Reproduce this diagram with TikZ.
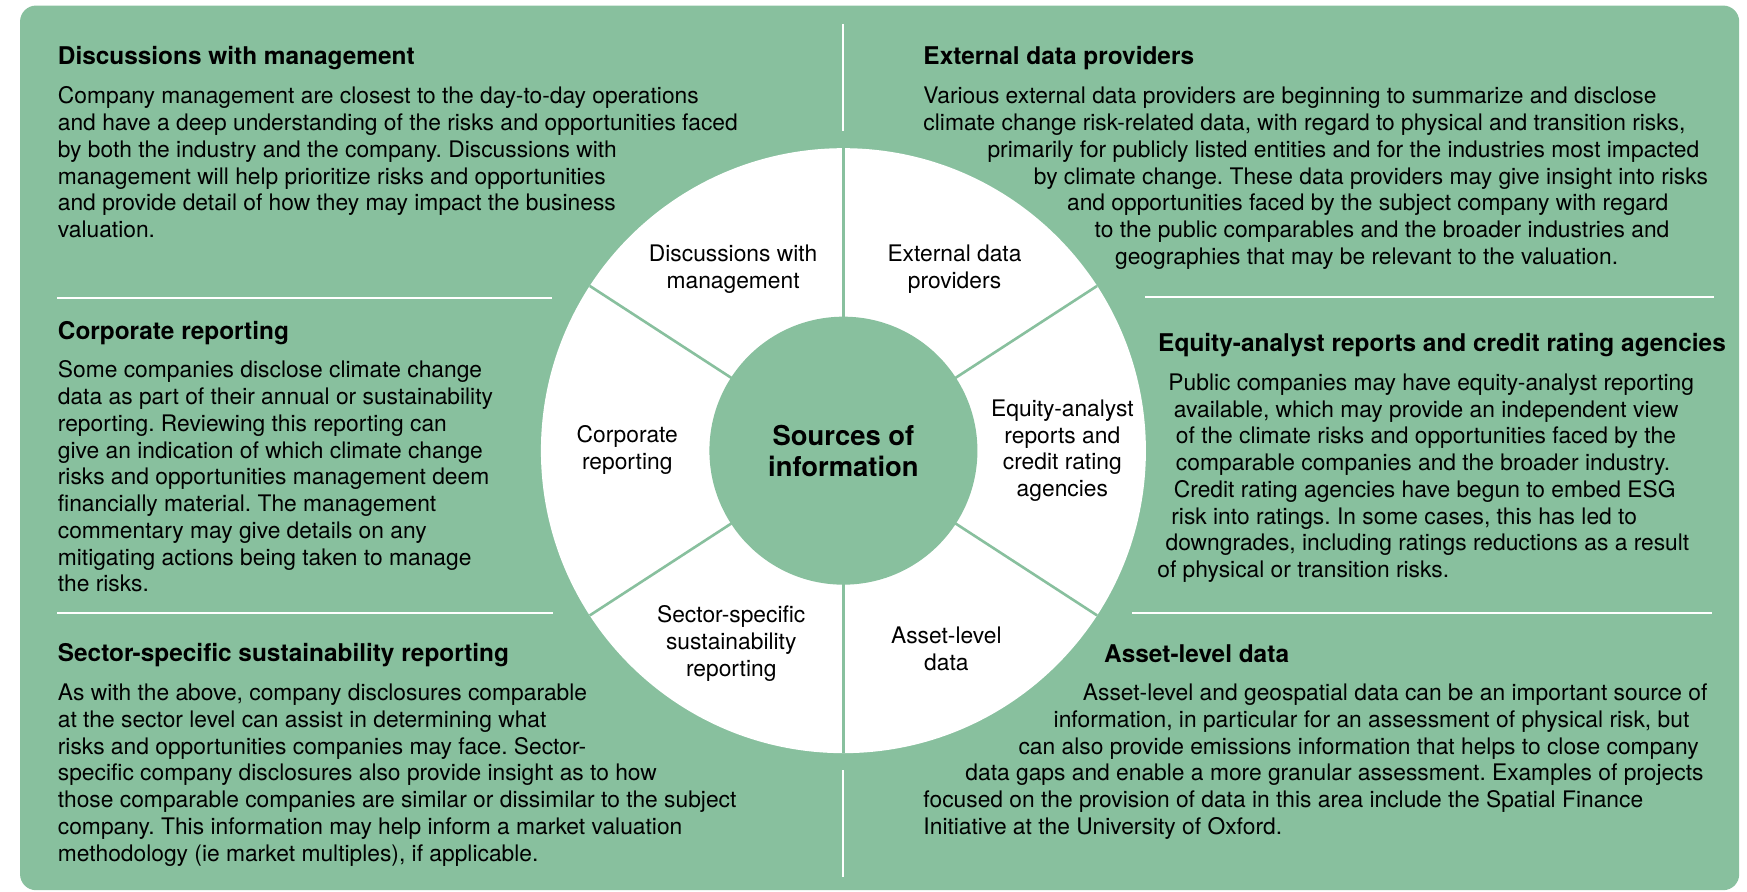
\documentclass[tikz,border=0pt]{standalone}
\usepackage{fontspec}
\setmainfont{TeX Gyre Heros}
\frenchspacing
\definecolor{sage}{HTML}{88C09E}
\tikzset{
  heading/.style={anchor=base west, inner sep=0pt, font=\fontsize{12.2}{14}\selectfont\bfseries},
  body/.style={anchor=base west, inner sep=0pt, align=left, font=\fontsize{11.4}{13.37}\selectfont},
  wedge text/.style={align=center, inner sep=0pt, font=\fontsize{11.4}{13.37}\selectfont},
  rule/.style={draw=white, line width=1pt},
  spoke/.style={draw=sage, line width=1.3pt}
}
\begin{document}
\begin{tikzpicture}[x=0.5571pt, y=-0.5571pt]
  \useasboundingbox (0,0) rectangle (1568,800);
  \fill [sage, rounded corners=8pt] (18,5) rectangle (1561,799);

  \draw [rule] (757,21.5) -- (757,117.6);
  \draw [rule] (757,691) -- (757,787);
  \draw [rule] (51.5,267.7) -- (495,267.7);
  \draw [rule] (51.5,550.5) -- (496,550.5);
  \draw [rule] (1028,266.8) -- (1538,266.8);
  \draw [rule] (1016,550.5) -- (1537,550.5);

  \coordinate (hub) at (757,404.5);
  \fill [white] (hub) circle [radius=271.5];
  \foreach \a in {33, 90, 147, 213, 270, 327}
    \draw [spoke] (hub) -- ++(\a:271.5);
  \node [circle, fill=sage, minimum size=134pt, inner sep=0pt, align=center,
    font=\fontsize{13.7}{15.6}\selectfont\bfseries] (sources) at (hub) {Sources of\\information};

  \node [wedge text] (w-dwm) at (658,241.5) {Discussions with\\management};
  \node [wedge text] (w-edp) at (856.7,241.5) {External data\\providers};
  \node [wedge text] (w-cr) at (563,404) {Corporate\\reporting};
  \node [wedge text] (w-ear) at (953.5,404.5) {Equity-analyst\\reports and\\credit rating\\agencies};
  \node [wedge text] (w-ssr) at (656.3,577.6) {Sector-specific\\sustainability\\reporting};
  \node [wedge text] (w-ald) at (849.4,582.6) {Asset-level\\data};

  % body nodes sit on the baseline of their last line
  \node [heading] (dwm-head) at (51.6,58.3) {Discussions with management};
  \node [body] (dwm-body) at (51.6,213.3) {Company management are closest to the day-to-day operations\\
    and have a deep understanding of the risks and opportunities faced\\
    by both the industry and the company. Discussions with\\
    management will help prioritize risks and opportunities\\
    and provide detail of how they may impact the business\\
    valuation.};

  \node [heading] (cr-head) at (51.6,305.1) {Corporate reporting};
  \node [body] (cr-body) at (51.6,531.2) {Some companies disclose climate change\\
    data as part of their annual or sustainability\\
    reporting. Reviewing this reporting can\\
    give an indication of which climate change\\
    risks and opportunities management deem\\
    financially material. The management\\
    commentary may give details on any\\
    mitigating actions being taken to manage\\
    the risks.};

  \node [heading] (ssr-head) at (51.6,593.8) {Sector-specific sustainability reporting};
  \node [body] (ssr-body) at (51.6,772.8) {As with the above, company disclosures comparable\\
    at the sector level can assist in determining what\\
    risks and opportunities companies may face. Sector-\\
    specific company disclosures also provide insight as to how\\
    those comparable companies are similar or dissimilar to the subject\\
    company. This information may help inform a market valuation\\
    methodology (ie market multiples), if applicable.};

  \node [heading] (edp-head) at (828.5,58.3) {External data providers};
  \foreach \x/\txt [count=\i from 0] in {
    828.5/{Various external data providers are beginning to summarize and disclose},
    828.5/{climate change risk-related data, with regard to physical and transition risks,},
    886/{primarily for publicly listed entities and for the industries most impacted},
    927.6/{by climate change. These data providers may give insight into risks},
    957.4/{and opportunities faced by the subject company with regard},
    982.2/{to the public comparables and the broader industries and},
    1000.5/{geographies that may be relevant to the valuation.}}
    \node [body] (edp-\i) at (\x,93.3+24*\i) {\txt};

  \node [heading] (ear-head) at (1039.2,315.5) {Equity-analyst reports and credit rating agencies};
  \foreach \x/\txt [count=\i from 0] in {
    1048.4/{Public companies may have equity-analyst reporting},
    1053.3/{available, which may provide an independent view},
    1055.1/{of the climate risks and opportunities faced by the},
    1055.1/{comparable companies and the broader industry.},
    1053.3/{Credit rating agencies have begun to embed ESG},
    1051/{risk into ratings. In some cases, this has led to},
    1045.8/{downgrades, including ratings reductions as a result},
    1038.4/{of physical or transition risks.}}
    \node [body] (ear-\i) at (\x,350.5+24*\i) {\txt};

  \node [heading] (ald-head) at (990.7,594.4) {Asset-level data};
  \foreach \x/\txt [count=\i from 0] in {
    971.6/{Asset-level and geospatial data can be an important source of},
    945.4/{information, in particular for an assessment of physical risk, but},
    913.8/{can also provide emissions information that helps to close company},
    866.2/{data gaps and enable a more granular assessment. Examples of projects},
    828.5/{focused on the provision of data in this area include the Spatial Finance},
    828.5/{Initiative at the University of Oxford.}}
    \node [body] (ald-\i) at (\x,628.8+24*\i) {\txt};
\end{tikzpicture}
\end{document}
